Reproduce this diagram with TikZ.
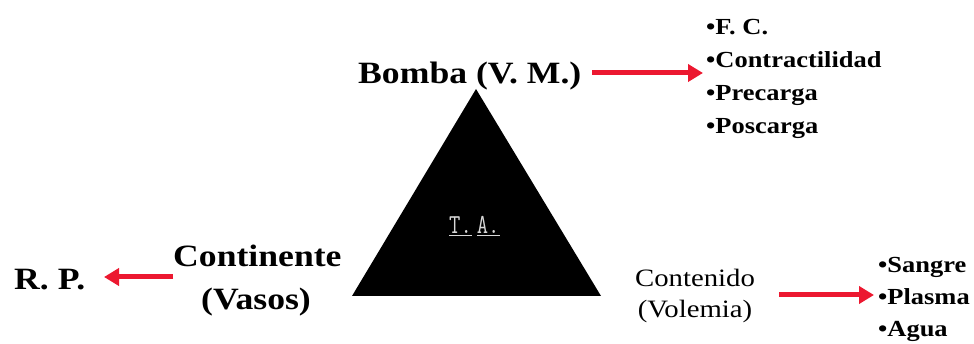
\documentclass[tikz,border=0pt]{standalone}
\usepackage{fontspec}
\usetikzlibrary{arrows.meta}
\setmainfont{Liberation Serif}
\newfontfamily\gar[FakeStretch=1.15]{Liberation Serif}
\definecolor{arrred}{RGB}{236,24,48}
\definecolor{talight}{RGB}{215,215,215}
\begin{document}
\begin{tikzpicture}[x=1pt,y=-1pt,
  lbl/.style={inner sep=0pt,anchor=base west,font=\gar\bfseries\fontsize{31}{34}\selectfont},
  item/.style={inner sep=0pt,anchor=base west,font=\gar\bfseries\fontsize{23}{26}\selectfont},
  sub/.style={inner sep=0pt,anchor=base,font=\gar\fontsize{25}{28}\selectfont},
  redarrow/.style={draw=arrred,line width=5pt,-{Triangle[length=15pt,width=17pt]}}]
\useasboundingbox (0,0) rectangle (974,344);
% triangle
\fill[black] (476,89) coordinate (apex) -- (601,296) coordinate (br) -- (352,296) coordinate (bl) -- cycle;
\node[inner sep=0pt,anchor=base west,text=talight,font=\ttfamily\fontsize{22}{24}\selectfont] (ta) at (449,234) {\scalebox{1}[1.25]{\underline{T.}}\hspace{5pt}\scalebox{1}[1.25]{\underline{A.}}};
% top
\node[lbl] (bomba) at (358,84) {Bomba (V. M.)};
\node[item] (fc) at (706,35) {\textbullet F. C.};
\node[item] (contr) at (706,68) {\textbullet Contractilidad};
\node[item] (prec) at (706,101) {\textbullet Precarga};
\node[item] (posc) at (706,134) {\textbullet Poscarga};
\coordinate (a1s) at (592,73);
\coordinate (a1e) at (703,73);
\draw[redarrow] (a1s) -- (a1e);
% left
\node[lbl] (cont) at (173,267) {Continente};
\node[lbl] (vasos) at (201,310) {(Vasos)};
\node[lbl] (rp) at (14,290) {R. P.};
\coordinate (a2s) at (173,277);
\coordinate (a2e) at (104,277);
\draw[redarrow] (a2s) -- (a2e);
% right
\node[sub] (conte) at (695,287) {Contenido};
\node[sub] (vol) at (695,318) {(Volemia)};
\node[item] (sang) at (878,273) {\textbullet Sangre};
\node[item] (plas) at (878,305) {\textbullet Plasma};
\node[item] (agua) at (878,337) {\textbullet Agua};
\coordinate (a3s) at (779,295);
\coordinate (a3e) at (874,295);
\draw[redarrow] (a3s) -- (a3e);
\end{tikzpicture}
\end{document}
